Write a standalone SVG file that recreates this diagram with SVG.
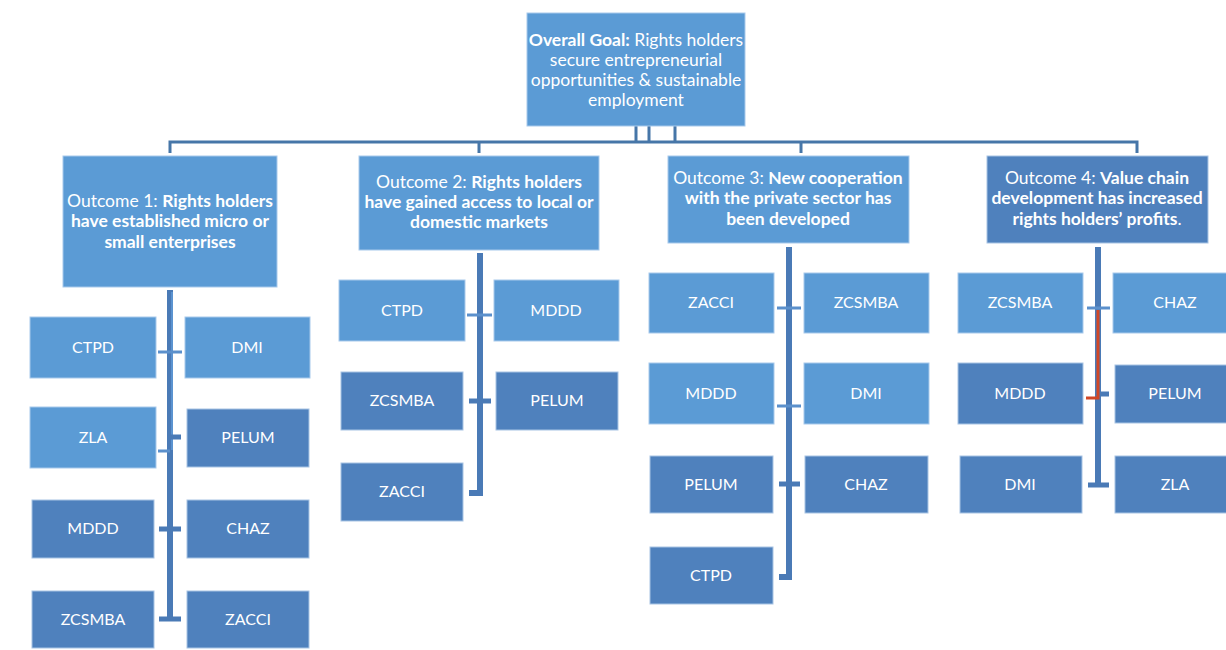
<svg xmlns="http://www.w3.org/2000/svg" width="1226" height="650" viewBox="0 0 1226 650">
<style>
.lt{fill:#5b9bd5;stroke:#a8c9eb;stroke-width:1}
.dk{fill:#4f81bd;stroke:#a8c4e4;stroke-width:1}
text{font-family:Lato,"Open Sans","Liberation Sans",sans-serif;font-size:16px;fill:#ffffff;text-anchor:middle}
.big{font-size:17.5px}
.b{font-weight:bold}
.bus{stroke:#4676a8;stroke-width:3;fill:none}
.spine{stroke:#4a7ab6;stroke-width:6;fill:none}
.hi{stroke:#5b93d0;stroke-width:2;fill:none}
.thin{stroke:#5b90cc;stroke-width:3;fill:none}
.thick{stroke:#4a7ab6;stroke-width:5;fill:none}
.red{stroke:#d24726;stroke-width:3;fill:none}
</style>
<g id="connectors">
<path class="bus" d="M636,126V142M649,126V142M675,126V142M170,153V142H1137V153M479,142V153M801,142V153"/>
<path class="spine" d="M170,290V619"/>
<path class="hi" d="M172,292V450"/>
<path class="thin" d="M158,352H182M158,451H170"/>
<path class="thick" d="M170,437H181M159,529H181M159,619H181"/>
<path class="spine" d="M480,253V493H469"/>
<path class="thin" d="M467,315H492"/>
<path class="thick" d="M469,401H491"/>
<path class="spine" d="M789,247V577H779"/>
<path class="thin" d="M777,308H801M777,406H801"/>
<path class="thick" d="M779,484H800"/>
<path class="spine" d="M1098,247V485"/>
<path class="thin" d="M1087,308H1110"/>
<path class="thick" d="M1098,394H1109M1088,485H1109"/>
<path class="red" d="M1098,310V398H1086"/>
</g>
<g id="goal" class="big">
<rect class="lt" x="527" y="13" width="218" height="113"/>
<text class="big" x="636" y="46"><tspan class="b">Overall Goal:</tspan> Rights holders</text>
<text class="big" x="636" y="66">secure entrepreneurial</text>
<text class="big" x="636" y="86">opportunities &amp; sustainable</text>
<text class="big" x="636" y="106">employment</text>
</g>
<g id="outcome1">
<rect class="lt" x="63" y="156" width="214" height="131"/>
<text class="big" x="170" y="207">Outcome 1: <tspan class="b">Rights holders</tspan></text>
<text class="big b" x="170" y="227">have established micro or</text>
<text class="big b" x="170" y="248">small enterprises</text>
</g>
<g id="outcome2">
<rect class="lt" x="359" y="156" width="240" height="94"/>
<text class="big" x="479" y="188">Outcome 2: <tspan class="b">Rights holders</tspan></text>
<text class="big b" x="479" y="208">have gained access to local or</text>
<text class="big b" x="479" y="228">domestic markets</text>
</g>
<g id="outcome3">
<rect class="lt" x="668" y="156" width="241" height="87"/>
<text class="big" x="788" y="184">Outcome 3: <tspan class="b">New cooperation</tspan></text>
<text class="big b" x="788" y="204">with the private sector has</text>
<text class="big b" x="788" y="225">been developed</text>
</g>
<g id="outcome4">
<rect class="dk" x="987" y="156" width="221" height="87"/>
<text class="big" x="1097" y="184">Outcome 4: <tspan class="b">Value chain</tspan></text>
<text class="big b" x="1097" y="204">development has increased</text>
<text class="big" x="1097" y="225"><tspan class="b">rights holders’ profits</tspan>.</text>
</g>
<g id="o1-ctpd"><rect class="lt" x="30" y="317" width="126" height="61"/><text x="93" y="353">CTPD</text></g>
<g id="o1-dmi"><rect class="lt" x="185" y="317" width="125" height="61"/><text x="247" y="353">DMI</text></g>
<g id="o1-zla"><rect class="lt" x="30" y="407" width="126" height="61"/><text x="93" y="443">ZLA</text></g>
<g id="o1-pelum"><rect class="dk" x="187" y="409" width="122" height="58"/><text x="248" y="443">PELUM</text></g>
<g id="o1-mddd"><rect class="dk" x="32" y="500" width="122" height="58"/><text x="93" y="534">MDDD</text></g>
<g id="o1-chaz"><rect class="dk" x="187" y="500" width="122" height="58"/><text x="248" y="534">CHAZ</text></g>
<g id="o1-zcsmba"><rect class="dk" x="32" y="591" width="122" height="57"/><text x="93" y="625">ZCSMBA</text></g>
<g id="o1-zacci"><rect class="dk" x="187" y="591" width="122" height="57"/><text x="248" y="625">ZACCI</text></g>
<g id="o2-ctpd"><rect class="lt" x="339" y="280" width="126" height="61"/><text x="402" y="316">CTPD</text></g>
<g id="o2-mddd"><rect class="lt" x="494" y="280" width="125" height="61"/><text x="556" y="316">MDDD</text></g>
<g id="o2-zcsmba"><rect class="dk" x="341" y="372" width="122" height="58"/><text x="402" y="406">ZCSMBA</text></g>
<g id="o2-pelum"><rect class="dk" x="496" y="372" width="122" height="58"/><text x="557" y="406">PELUM</text></g>
<g id="o2-zacci"><rect class="dk" x="341" y="463" width="122" height="58"/><text x="402" y="497">ZACCI</text></g>
<g id="o3-zacci"><rect class="lt" x="649" y="273" width="125" height="60"/><text x="711" y="308">ZACCI</text></g>
<g id="o3-zcsmba"><rect class="lt" x="804" y="273" width="125" height="60"/><text x="866" y="308">ZCSMBA</text></g>
<g id="o3-mddd"><rect class="lt" x="649" y="363" width="125" height="61"/><text x="711" y="399">MDDD</text></g>
<g id="o3-dmi"><rect class="lt" x="804" y="363" width="125" height="61"/><text x="866" y="399">DMI</text></g>
<g id="o3-pelum"><rect class="dk" x="650" y="456" width="123" height="57"/><text x="711" y="490">PELUM</text></g>
<g id="o3-chaz"><rect class="dk" x="805" y="456" width="123" height="57"/><text x="866" y="490">CHAZ</text></g>
<g id="o3-ctpd"><rect class="dk" x="650" y="547" width="123" height="57"/><text x="711" y="581">CTPD</text></g>
<g id="o4-zcsmba"><rect class="lt" x="958" y="273" width="125" height="60"/><text x="1020" y="308">ZCSMBA</text></g>
<g id="o4-chaz"><rect class="lt" x="1113" y="273" width="125" height="60"/><text x="1175" y="308">CHAZ</text></g>
<g id="o4-mddd"><rect class="dk" x="958" y="363" width="125" height="61"/><text x="1020" y="399">MDDD</text></g>
<g id="o4-pelum"><rect class="dk" x="1115" y="365" width="123" height="58"/><text x="1175" y="399">PELUM</text></g>
<g id="o4-dmi"><rect class="dk" x="960" y="456" width="122" height="57"/><text x="1020" y="490">DMI</text></g>
<g id="o4-zla"><rect class="dk" x="1115" y="456" width="123" height="57"/><text x="1175" y="490">ZLA</text></g>
</svg>
